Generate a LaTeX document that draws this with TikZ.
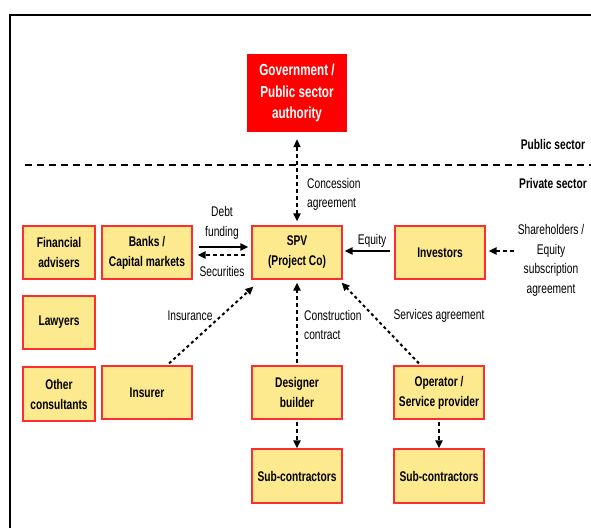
\documentclass[tikz,border=0pt]{standalone}
\usepackage{fontspec}
\setmainfont{Liberation Sans}[FakeStretch=0.73]
\usetikzlibrary{arrows.meta,calc}
\definecolor{boxfill}{HTML}{FDE98E}
\definecolor{boxline}{HTML}{FF2E2E}
\definecolor{govred}{HTML}{FF0000}
\tikzset{
  box/.style={draw=boxline,line width=1.1pt,fill=boxfill,minimum width=90pt,minimum height=53pt,
    inner sep=1pt,align=center,font=\fontsize{14}{20}\selectfont\bfseries},
  lbl/.style={inner sep=0pt,font=\fontsize{14}{19.5}\selectfont},
  tip/.style={-{Triangle[length=8pt,width=7pt]}},
  solidarrow/.style={tip,line width=2.6pt},
  dasharrow/.style={tip,line width=2pt,dash pattern=on 4pt off 3pt},
  dotarrow/.style={tip,line width=2pt,dash pattern=on 3pt off 3pt},
}
\begin{document}
\begin{tikzpicture}[x=1pt,y=-1pt]
\useasboundingbox (0,0) rectangle (591,528);
% frame
\draw[line width=2pt] (10,528) -- (10,15) -- (591,15);
% sector line
\coordinate (sl) at (25,165);
\coordinate (sr) at (591,165);
\draw[line width=2pt,dash pattern=on 7pt off 5pt] (sl) -- (sr);
\node[lbl,font=\fontsize{14}{16}\selectfont\bfseries] (pub) at (553,144) {Public sector};
\node[lbl,font=\fontsize{14}{16}\selectfont\bfseries] (priv) at (553,183) {Private sector};
% government
\node[fill=govred,minimum width=100pt,minimum height=78pt,align=center,text=white,
  font=\fontsize{16}{21.5}\selectfont\bfseries] (gov) at (297,93) {Government /\\Public sector\\authority};
% boxes
\node[box,minimum width=72pt] (fin) at (59,252.5) {Financial\\advisers};
\node[box] (banks) at (147,252.5) {Banks /\\Capital markets};
\node[box] (spv) at (297,252.5) {SPV\\(Project Co)};
\node[box] (inv) at (440,252.5) {Investors};
\node[box,minimum width=72pt] (law) at (59,322.5) {Lawyers};
\node[box,minimum width=72pt,minimum height=54pt] (other) at (59,394) {Other\\consultants};
\node[box] (insurer) at (147,392.5) {Insurer};
\node[box] (designer) at (297,392.5) {Designer\\builder};
\node[box] (operator) at (439,392.5) {Operator /\\Service provider};
\node[box,minimum height=54pt] (sub1) at (297,476) {Sub-contractors};
\node[box,minimum height=54pt] (sub2) at (439,476) {Sub-contractors};
% concession
\draw[dasharrow,{Triangle[length=8pt,width=7pt]}-{Triangle[length=8pt,width=7pt]}]
  ($(spv.north)+(0,-4)$) -- ($(gov.south)+(0,7)$);
\node[lbl,anchor=west,align=left] (conc) at (307,194.5) {Concession\\agreement};
% debt / securities
\draw[solidarrow] ($(banks.east)+(6,-5.5)$) -- ($(spv.west)+(-3,-5.5)$);
\draw[dasharrow] ($(spv.west)+(-6,2.5)$) -- ($(banks.east)+(5,2.5)$);
\node[lbl,align=center] (debt) at (222,223) {Debt\\funding};
\node[lbl] (sec) at (222,271) {Securities};
% equity
\draw[solidarrow] ($(inv.west)+(-4,-1.5)$) -- ($(spv.east)+(2,-1.5)$);
\node[lbl] (eq) at (372,241) {Equity};
\coordinate (sh) at (514,251);
\draw[dasharrow] (sh) -- ($(inv.east)+(3,-1.5)$);
\node[lbl,align=center] (shl) at (551,260.5) {Shareholders /\\Equity\\subscription\\agreement};
% insurance
\draw[dotarrow] ($(insurer.north)+(22,-2)$) -- ($(spv.south west)+(2,7)$);
\node[lbl] (ins) at (190,316) {Insurance};
% construction
\draw[dasharrow] ($(designer.north)+(0,-2)$) -- ($(spv.south)+(0,3)$);
\node[lbl,anchor=west,align=left] (cons) at (304,325) {Construction\\contract};
% services
\draw[dotarrow] ($(operator.north)+(-20,-2)$) -- ($(spv.south east)+(-1,3)$);
\node[lbl] (serv) at (439,316) {Services agreement};
% sub-contractors
\draw[dasharrow] ($(designer.south)+(0,2)$) -- (sub1.north);
\draw[dasharrow] ($(operator.south)+(0,2)$) -- ($(sub2.north)+(0,0)$);
\end{tikzpicture}
\end{document}
